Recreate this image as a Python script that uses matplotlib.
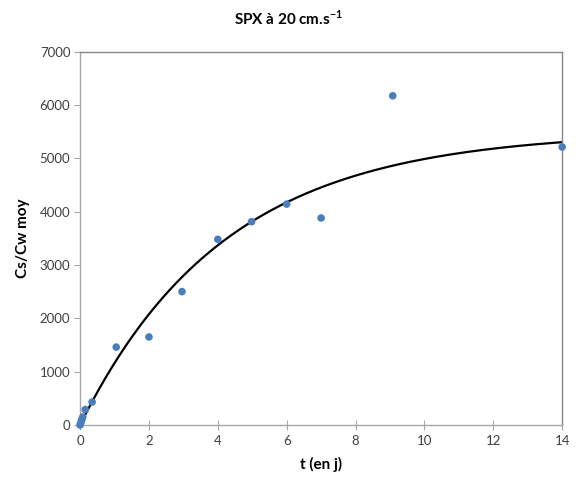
import numpy as np
import matplotlib
matplotlib.use("Agg")
import matplotlib.pyplot as plt

plt.rcParams['font.family'] = ['Lato', 'DejaVu Sans']
plt.rcParams['mathtext.fontset'] = 'custom'
plt.rcParams['mathtext.rm'] = 'Lato:bold'
plt.rcParams['mathtext.bf'] = 'Lato:bold'

t_days = [0.0, 0.02, 0.04, 0.06, 0.08, 0.15, 0.35, 1.05, 2.0, 2.96, 4.0, 4.98, 6.0, 7.0, 9.08, 14.0]
cs_cw = [0, 40, 80, 120, 150, 290, 430, 1460, 1650, 2500, 3480, 3810, 4140, 3880, 6170, 5210]

# courbe d'ajustement y = A*(1 - exp(-k t))
fit_A = 5500.0
fit_k = 0.237

fig = plt.figure(figsize=(5.76, 4.86), dpi=100)
ax = fig.add_axes([0.139, 0.1255, 0.837, 0.7685])

tt = np.linspace(0, 14, 300)
ax.plot(tt, fit_A * (1 - np.exp(-fit_k * tt)), color='black', lw=1.6, zorder=2)
ax.scatter(t_days, cs_cw, s=30, color='#4a7ebb', edgecolors='none', zorder=3, clip_on=False)

ax.set_xlim(0, 14)
ax.set_ylim(0, 7000)
ax.set_xticks(range(0, 15, 2))
ax.set_yticks(range(0, 7001, 1000))

for side in ['left', 'bottom']:
    ax.spines[side].set_color('#a6a6a6')
for side in ['top', 'right']:
    ax.spines[side].set_color('#868686')
for s in ax.spines.values():
    s.set_linewidth(1.0)

ax.tick_params(axis='x', direction='inout', length=7, color='#a6a6a6', labelsize=9.5, labelcolor='#404040', pad=4)
ax.tick_params(axis='y', direction='out', length=4, color='#a6a6a6', labelsize=9.5, labelcolor='#404040', pad=3)

ax.set_xlabel('t (en j)', fontsize=11, fontweight='bold', labelpad=7)
ax.set_ylabel('Cs/Cw moy', fontsize=11, fontweight='bold', labelpad=7)
fig.text(0.5, 0.962, r'SPX à 20 cm.s$^{-1}$', ha='center', va='center',
         fontsize=11, fontweight='bold')

fig.savefig('out.png', dpi=100)
